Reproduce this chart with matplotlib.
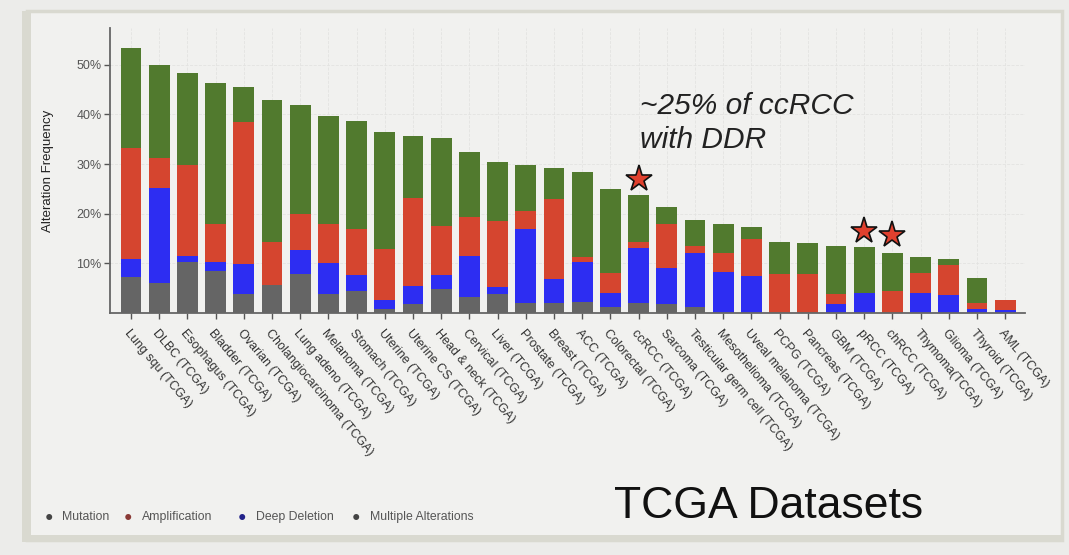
import matplotlib
matplotlib.use("Agg")
import matplotlib.pyplot as plt
from matplotlib.patches import Rectangle
import numpy as np

plt.rcParams['font.family'] = ['Liberation Sans', 'DejaVu Sans']

studies = ["Lung squ (TCGA)", "DLBC (TCGA)", "Esophagus (TCGA)", "Bladder (TCGA)",
           "Ovarian (TCGA)", "Cholangiocarcinoma (TCGA)", "Lung adeno (TCGA)",
           "Melanoma (TCGA)", "Stomach (TCGA)", "Uterine (TCGA)", "Uterine CS (TCGA)",
           "Head & neck (TCGA)", "Cervical (TCGA)", "Liver (TCGA)", "Prostate (TCGA)",
           "Breast (TCGA)", "ACC (TCGA)", "Colorectal (TCGA)", "ccRCC (TCGA)",
           "Sarcoma (TCGA)", "Testicular germ cell (TCGA)", "Mesothelioma (TCGA)",
           "Uveal melanoma (TCGA)", "PCPG (TCGA)", "Pancreas (TCGA)", "GBM (TCGA)",
           "pRCC (TCGA)", "chRCC (TCGA)", "Thymoma(TCGA)", "Glioma (TCGA)",
           "Thyroid (TCGA)", "AML (TCGA)"]

# alteration frequency (%) per type, stacked bottom -> top
multiple = [7.3, 6.1, 10.3, 8.5, 3.8, 5.6, 7.8, 3.8, 4.4, 0.8, 1.8, 4.9, 3.2, 3.8, 2.1, 2.1,
            2.2, 1.3, 2.1, 1.8, 1.3, 0.0, 0.0, 0.0, 0.0, 0.0, 0.0, 0.0, 0.0, 0.0, 0.0, 0.0]
deep_del = [3.5, 19.0, 1.2, 1.8, 6.1, 0.0, 4.9, 6.3, 3.3, 1.8, 3.6, 2.8, 8.3, 1.5, 14.9, 4.7,
            8.1, 2.8, 10.9, 7.3, 10.8, 8.3, 7.5, 0.0, 0.0, 1.8, 4.0, 0.0, 4.0, 3.6, 0.8, 0.6]
amplif = [22.5, 6.1, 18.4, 7.7, 28.6, 8.6, 7.3, 7.9, 9.3, 10.2, 17.8, 9.9, 7.9, 13.3, 3.5, 16.1,
          1.0, 4.0, 1.3, 8.9, 1.4, 3.7, 7.5, 7.8, 7.8, 2.0, 0.0, 4.4, 4.1, 6.0, 1.2, 2.0]
mutation = [20.1, 18.8, 18.4, 28.4, 7.1, 28.6, 21.8, 21.6, 21.7, 23.6, 12.5, 17.7, 13.0, 11.8,
            9.4, 6.3, 17.1, 16.9, 9.4, 3.4, 5.2, 6.0, 2.4, 6.4, 6.2, 9.7, 9.2, 7.7, 3.2, 1.3,
            5.0, 0.0]

star_studies = ["ccRCC (TCGA)", "pRCC (TCGA)", "chRCC (TCGA)"]
star_heights = [26.9, 16.5, 15.8]

c_mult = '#656565'
c_del = '#2d2df2'
c_amp = '#d5452f'
c_mut = '#517a2e'

fig = plt.figure(figsize=(10.69, 5.55), dpi=100)
fig.patch.set_facecolor('#ececea')

# slide frame
W, H = 1069, 555
fig.patches.append(Rectangle((27 / W, 1 - 540 / H), (1062 - 27) / W, (540 - 11) / H,
                             transform=fig.transFigure, facecolor='#f1f1ef',
                             edgecolor='#d9d9d0', lw=2.5, zorder=-2))
fig.patches.append(Rectangle((22 / W, 1 - 542 / H), 9 / W, (542 - 11) / H,
                             transform=fig.transFigure, facecolor='#d9d9d0', lw=0, zorder=-1))
fig.patches.append(Rectangle((22 / W, 1 - 542 / H), (1064 - 22) / W, 7 / H,
                             transform=fig.transFigure, facecolor='#d9d9d0', lw=0, zorder=-1))

ax = fig.add_axes([110 / W, 1 - 313 / H, (1025 - 110) / W, (313 - 28) / H])
ax.set_facecolor('none')

x = np.arange(len(studies))
bw = 0.74
b1 = np.array(multiple)
b2 = b1 + np.array(deep_del)
b3 = b2 + np.array(amplif)
ax.bar(x, multiple, bw, color=c_mult, zorder=2)
ax.bar(x, deep_del, bw, bottom=b1, color=c_del, zorder=2)
ax.bar(x, amplif, bw, bottom=b2, color=c_amp, zorder=2)
ax.bar(x, mutation, bw, bottom=b3, color=c_mut, zorder=2)

sx = [studies.index(s) for s in star_studies]
ax.plot(sx, star_heights, linestyle='none', marker='*', markersize=20,
        markerfacecolor='#e0402e', markeredgecolor='#111111', markeredgewidth=1.2,
        zorder=4, clip_on=False)

ax.set_xlim(-0.745, 31.7)
ax.set_ylim(0, 57.4)
ax.set_yticks([10, 20, 30, 40, 50])
ax.set_yticklabels(['10%', '20%', '30%', '40%', '50%'], fontsize=9, color='#555555')
ax.set_xticks(x)
ax.set_xticklabels(studies, rotation=-50, ha='left', va='top', rotation_mode='anchor',
                   fontsize=9, color='#333333')
ax.tick_params(axis='both', length=4, width=1, color='#555555', pad=2)
ax.tick_params(axis='x', pad=6)
ax.grid(True, color='#e3e3e1', lw=0.6, ls='--', zorder=0)
for s in ['top', 'right']:
    ax.spines[s].set_visible(False)
for s in ['left', 'bottom']:
    ax.spines[s].set_color('#666666')
    ax.spines[s].set_linewidth(1.3)
ax.set_ylabel('Alteration Frequency', fontsize=9.5, color='#222222')
ax.yaxis.set_label_coords(-0.061, 0.5)

fig.text(640 / W, 1 - 92 / H, '~25% of ccRCC\nwith DDR', fontsize=21.5, style='italic',
         color='#222222', ha='left', va='top', linespacing=1.27)
fig.text(614 / W, 1 - 518 / H, 'TCGA Datasets', fontsize=32, color='#111111',
         ha='left', va='baseline')

legend_items = [("Mutation", '#444444', 49, 62), ("Amplification", '#8a3a36', 128, 142),
                ("Deep Deletion", '#23238a', 242, 256),
                ("Multiple Alterations", '#444444', 356, 370)]
for name, col, dx, tx in legend_items:
    fig.text(dx / W, 1 - 517 / H, '\u25CF', fontsize=10, color=col, ha='center', va='center')
    fig.text(tx / W, 1 - 517 / H, name, fontsize=8.8, color='#555555', ha='left', va='center')

fig.savefig('out.png', dpi=100, facecolor=fig.get_facecolor())
